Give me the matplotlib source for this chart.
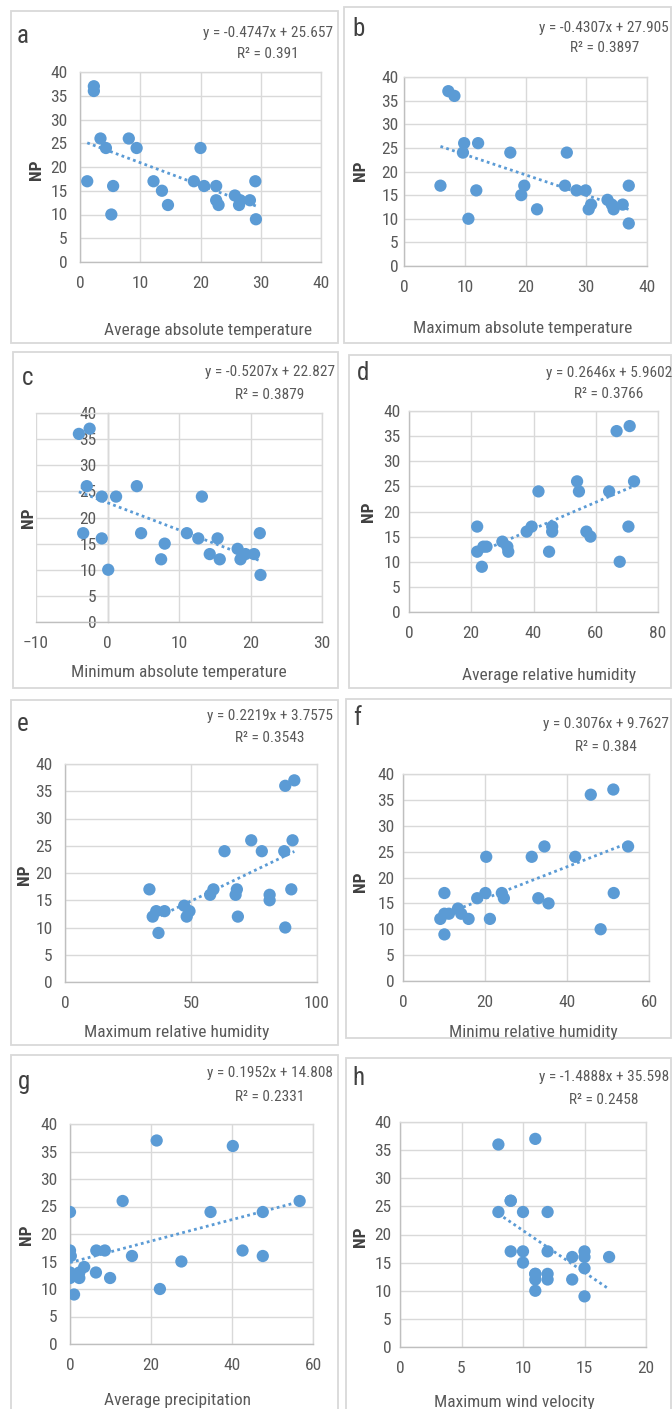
import matplotlib
matplotlib.use('Agg')
import matplotlib.pyplot as plt
from matplotlib.patches import Rectangle
import numpy as np

plt.rcParams['font.family'] = ['Roboto Condensed', 'Liberation Sans', 'DejaVu Sans']

# ---------------- data ----------------
panel_letters = ['a', 'b', 'c', 'd', 'e', 'f', 'g', 'h']
x_titles = ['Average absolute temperature', 'Maximum absolute temperature',
            'Minimum absolute temperature', 'Average relative humidity',
            'Maximum relative humidity', 'Minimu relative humidity',
            'Average precipitation', 'Maximum wind velocity']

x_avg_temp = [1.2, 2.3, 2.3, 3.4, 4.3, 5.2, 5.5, 8.1, 9.4, 12.2, 13.6, 14.6,
              18.9, 20.0, 20.6, 22.6, 22.6, 23.0, 25.7, 26.6, 26.4, 28.2, 29.1, 29.2]
np_avg_temp = [17, 37, 36, 26, 24, 10, 16, 26, 24, 17, 15, 12,
               17, 24, 16, 16, 13, 12, 14, 13, 12, 13, 17, 9]

x_max_temp = [6.0, 7.3, 8.3, 9.7, 9.9, 10.6, 11.9, 12.2, 17.5, 19.3, 19.8, 21.9,
              26.5, 26.8, 28.4, 29.9, 30.4, 30.8, 33.5, 34.2, 34.5, 36.0, 37.0, 37.0]
np_max_temp = [17, 37, 36, 24, 26, 10, 16, 26, 24, 15, 17, 12,
               17, 24, 16, 16, 12, 13, 14, 13, 12, 13, 17, 9]

x_min_temp = [-4.0, -2.5, -2.9, -0.8, 1.2, 4.1, -3.4, -0.8, 4.7, 0.1, 7.5, 8.0,
              11.1, 12.7, 13.2, 14.3, 15.4, 15.7, 18.2, 18.6, 19.3, 20.5, 21.3, 21.4]
np_min_temp = [36, 37, 26, 24, 24, 26, 17, 16, 17, 10, 12, 15,
               17, 16, 24, 13, 16, 12, 14, 12, 13, 13, 17, 9]

x_avg_rh = [21.9, 21.9, 23.4, 23.9, 24.9, 30.0, 31.6, 31.9, 37.8, 39.4, 41.6, 45.0,
            46.0, 46.0, 54.0, 54.6, 57.0, 58.3, 64.3, 66.7, 67.7, 70.5, 70.9, 72.3]
np_avg_rh = [17, 12, 9, 13, 13, 14, 13, 12, 16, 17, 24, 12,
             17, 16, 26, 24, 16, 15, 24, 36, 10, 17, 37, 26]

x_max_rh = [33.5, 34.8, 36.2, 37.1, 39.5, 47.3, 48.3, 49.4, 57.6, 58.9, 63.3, 67.7,
            68.2, 68.6, 73.9, 78.1, 81.2, 81.2, 87.0, 87.4, 87.4, 89.8, 90.3, 91.0]
np_max_rh = [17, 12, 13, 9, 13, 14, 12, 13, 16, 17, 24, 16,
             17, 12, 26, 24, 16, 15, 24, 36, 10, 17, 26, 37]

x_min_rh = [9.1, 10.1, 10.1, 10.1, 11.2, 13.4, 14.2, 16.0, 18.1, 20.1, 20.3, 21.2,
            24.1, 24.6, 31.4, 33.0, 34.5, 35.5, 42.0, 45.8, 48.2, 51.3, 51.4, 54.9]
np_min_rh = [12, 9, 17, 13, 13, 14, 13, 12, 16, 17, 24, 12,
             17, 16, 24, 16, 26, 15, 24, 36, 10, 37, 17, 26]

x_precip = [0.0, 0.0, 0.2, 0.0, 0.0, 1.0, 2.3, 2.3, 3.5, 6.4, 6.5, 8.6,
            9.9, 13.0, 15.3, 21.4, 22.2, 27.5, 34.7, 40.2, 42.6, 47.6, 47.6, 56.7]
np_precip = [24, 17, 16, 13, 12, 9, 13, 12, 14, 13, 17, 17,
             12, 26, 16, 37, 10, 15, 24, 36, 17, 24, 16, 26]

x_wind = [8, 8, 9, 9, 9, 10, 10, 10, 11, 11, 11, 11,
          11, 12, 12, 12, 12, 14, 14, 15, 15, 15, 15, 17]
np_wind = [36, 24, 26, 26, 17, 24, 17, 15, 37, 13, 13, 12,
           10, 24, 17, 13, 12, 16, 12, 17, 16, 14, 9, 16]

slopes = [-0.4747, -0.4307, -0.5207, 0.2646, 0.2219, 0.3076, 0.1952, -1.4888]
intercepts = [25.657, 27.905, 22.827, 5.9602, 3.7575, 9.7627, 14.808, 35.598]
eq_labels = ['y = -0.4747x + 25.657', 'y = -0.4307x + 27.905', 'y = -0.5207x + 22.827',
             'y = 0.2646x + 5.9602', 'y = 0.2219x + 3.7575', 'y = 0.3076x + 9.7627',
             'y = 0.1952x + 14.808', 'y = -1.4888x + 35.598']
r2_labels = ['R² = 0.391', 'R² = 0.3897', 'R² = 0.3879', 'R² = 0.3766',
             'R² = 0.3543', 'R² = 0.384', 'R² = 0.2331', 'R² = 0.2458']
x_limits = [(0, 40), (0, 40), (-10, 30), (0, 80), (0, 100), (0, 60), (0, 60), (0, 20)]
x_steps = [10, 10, 10, 20, 50, 20, 20, 5]
y_ticks = [0, 5, 10, 15, 20, 25, 30, 35, 40]

xs = [x_avg_temp, x_max_temp, x_min_temp, x_avg_rh, x_max_rh, x_min_rh, x_precip, x_wind]
ys = [np_avg_temp, np_max_temp, np_min_temp, np_avg_rh, np_max_rh, np_min_rh, np_precip, np_wind]

# ---------------- layout (pixels) ----------------
W, H = 672, 1409
fig = plt.figure(figsize=(W / 100, H / 100), dpi=100)
fig.patch.set_facecolor('white')

axes_px = [(80, 321, 72, 262), (404, 647, 77, 266), (36, 322, 413, 622), (409, 658, 411, 612),
           (65, 317, 764, 982), (403, 649, 774, 981), (70, 313, 1124, 1344), (400, 646, 1122, 1347)]
border_px = [(11, 11, 338, 343), (344, 7, 671, 343), (13, 352, 338, 688), (349, 355, 671, 688),
             (11, 700, 338, 1045), (346, 699, 671, 1038), (11, 1055, 338, 1412), (346, 1058, 671, 1412)]
letter_px = [(17, 36), (352, 29), (22, 378), (357, 373), (17, 724), (353, 718), (18, 1082), (352, 1078)]
eq_px = [(333, 33, 54), (669, 28, 48), (335, 372, 395), (672, 373, 394),
         (333, 716, 738), (669, 724, 747), (333, 1073, 1097), (669, 1077, 1100)]
title_px = [(208, 330), (523, 328), (179, 673), (549, 675), (177, 1033), (533, 1033), (177, 1400), (514, 1402)]
np_px = [(37, 170), (361, 171), (28, 518), (368, 512), (25, 875), (361, 882), (27, 1235), (361, 1237)]
ypad = [9, 4, 8, 6, 9, 6, 9, 6]

def fx(px):
    return px / W

def fy(py):
    return 1 - py / H

BLUE = '#5B9BD5'
GRID = '#D9D9D9'
TXT = '#595959'

eq_texts = []
for i in range(8):
    l, r, t, b = axes_px[i]
    ax = fig.add_axes([fx(l), fy(b), (r - l) / W, (b - t) / H])
    ax.set_xlim(*x_limits[i])
    ax.set_ylim(0, 40)
    ax.set_xticks(np.arange(x_limits[i][0], x_limits[i][1] + 0.1, x_steps[i]))
    ax.set_yticks(y_ticks)
    ax.grid(True, color=GRID, lw=1.0)
    ax.set_axisbelow(True)
    for s in ['top', 'right']:
        ax.spines[s].set_color(GRID)
        ax.spines[s].set_linewidth(1.0)
    for s in ['left', 'bottom']:
        ax.spines[s].set_color('#BFBFBF')
        ax.spines[s].set_linewidth(1.0)
    if x_limits[i][0] < 0:
        ax.spines['left'].set_position(('data', 0))
        ax.spines['left'].set_zorder(0.5)
    ax.tick_params(axis='both', length=0, labelsize=12.5, labelcolor=TXT)
    ax.tick_params(axis='x', pad=10)
    ax.tick_params(axis='y', pad=ypad[i])

    xv = np.array(xs[i], dtype=float)
    yv = np.array(ys[i], dtype=float)
    ax.scatter(xv, yv, s=78, color=BLUE, edgecolors='none', zorder=3)
    tx = np.array([xv.min(), xv.max()])
    ax.plot(tx, slopes[i] * tx + intercepts[i], color=BLUE, lw=2.0,
            linestyle=(0, (1, 1.2)), zorder=4)

    bl, bt, br, bb = border_px[i]
    fig.patches.append(Rectangle((fx(bl), fy(bb)), (br - bl) / W, (bb - bt) / H,
                                 transform=fig.transFigure, fill=False,
                                 edgecolor=GRID, lw=1.3, zorder=0))
    fig.text(fx(letter_px[i][0]), fy(letter_px[i][1]), panel_letters[i], fontsize=18,
             color='#404040', ha='left', va='center')
    ex, ey, ry = eq_px[i]
    et = fig.text(fx(ex), fy(ey), eq_labels[i], fontsize=11, color=TXT, ha='right', va='center')
    eq_texts.append((et, ry, i))
    fig.text(fx(title_px[i][0]), fy(title_px[i][1]), x_titles[i], fontsize=12.5,
             color=TXT, ha='center', va='center')
    fig.text(fx(np_px[i][0]), fy(np_px[i][1]), 'NP', fontsize=12.5, fontweight='bold',
             color='#404040', ha='center', va='center', rotation=90)

fig.canvas.draw()
renderer = fig.canvas.get_renderer()
for et, ry, i in eq_texts:
    bb = et.get_window_extent(renderer)
    cx = (bb.x0 + bb.x1) / 2 / fig.bbox.width
    fig.text(cx, fy(ry), r2_labels[i], fontsize=11, color=TXT, ha='center', va='center')

fig.savefig('out.png', dpi=100)
